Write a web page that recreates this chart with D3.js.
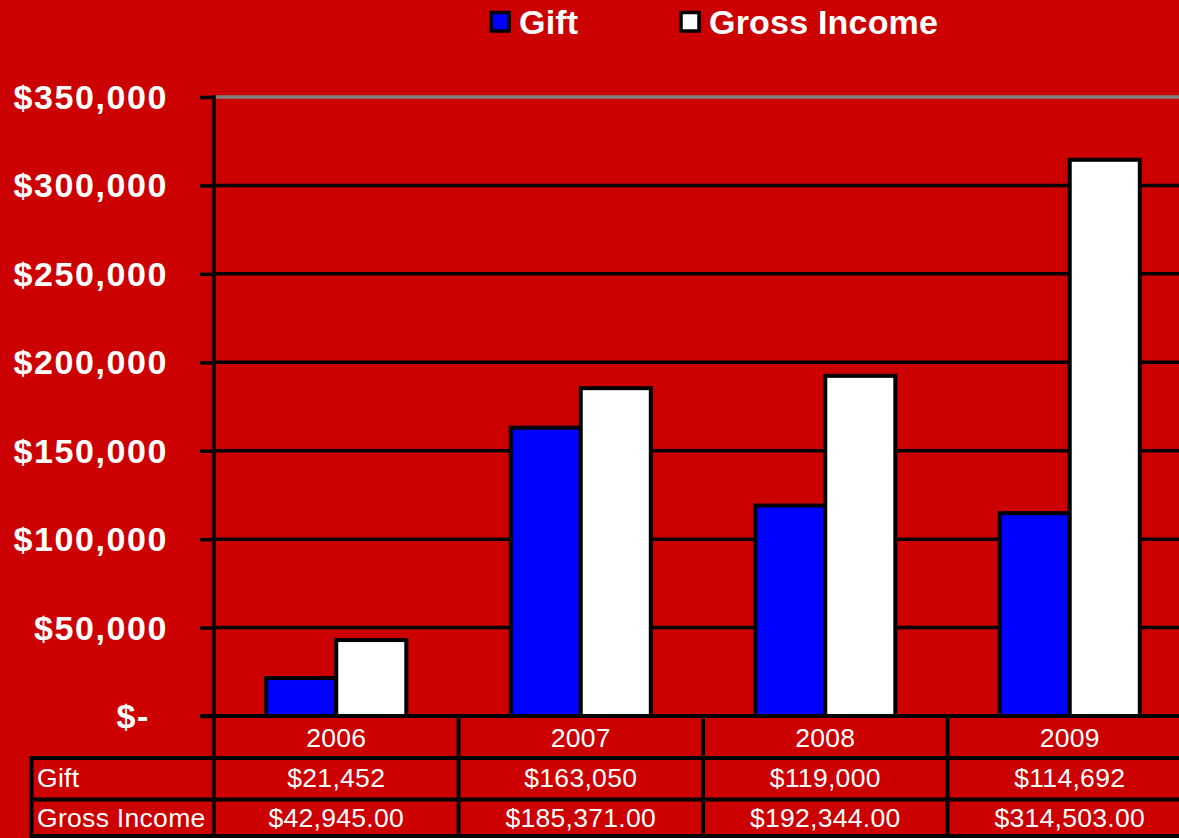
<!DOCTYPE html>
<html>
<head>
<meta charset="utf-8">
<script src="https://cdn.jsdelivr.net/npm/d3@7"></script>
<style>
  html, body { margin: 0; padding: 0; background: #CC0000; overflow: hidden; }
  svg { display: block; font-family: "Liberation Sans", Arial, sans-serif; }
</style>
</head>
<body>
<svg id="chart" width="1179" height="838"></svg>
<script>
// data
const years = ["2006", "2007", "2008", "2009"];
const seriesNames = ["Gift", "Gross Income"];
const gift = [21452, 163050, 119000, 114692];
const grossIncome = [42945.00, 185371.00, 192344.00, 314503.00];
const yTicks = [0, 50000, 100000, 150000, 200000, 250000, 300000, 350000];
const colors = ["#0000FF", "#FFFFFF"];

const svg = d3.select("#chart");
const W = 1179, H = 838;

svg.append("rect").attr("width", W).attr("height", H).attr("fill", "#CC0000");

const plotLeft = 214, plotRight = 1192, plotTop = 97, plotBottom = 716;

let x0 = d3.scaleBand().domain(years).range([plotLeft, plotRight]);
let groupW = x0.bandwidth() * 0.573;
let x1 = d3.scaleBand().domain(seriesNames).range([0, groupW]);
let y = d3.scaleLinear().domain([0, 350000]).range([plotBottom, plotTop]);

// gridlines
svg.append("g").selectAll("line")
    .data(yTicks.filter(d => d > 0))
    .enter().append("line")
    .attr("x1", plotLeft).attr("x2", W)
    .attr("y1", d => y(d)).attr("y2", d => y(d))
    .attr("stroke", d => d === 350000 ? "#808080" : "#000")
    .attr("stroke-width", 3.5);

// y axis
let yAxis = d3.axisLeft(y).tickValues(yTicks).tickSize(14).tickFormat("");
let yg = svg.append("g").attr("transform", `translate(${plotLeft},0)`).call(yAxis);
yg.select(".domain").remove();
yg.selectAll(".tick line").attr("stroke", "#000").attr("stroke-width", 3.5);
svg.append("line")
    .attr("x1", plotLeft).attr("x2", plotLeft)
    .attr("y1", plotTop - 1.75).attr("y2", H)
    .attr("stroke", "#000").attr("stroke-width", 3.5);

// y labels
svg.append("g").selectAll("text")
    .data(yTicks)
    .enter().append("text")
    .attr("x", d => d === 0 ? 150 : 168)
    .attr("y", d => y(d) + 12)
    .attr("text-anchor", "end")
    .attr("fill", "#fff")
    .attr("font-weight", "bold")
    .attr("font-size", 34)
    .attr("letter-spacing", "1.6px")
    .text(d => d === 0 ? "$-" : d3.format("$,")(d));

// bars
const rows = years.map((yr, i) => ({ year: yr, values: [gift[i], grossIncome[i]] }));
let groups = svg.append("g").selectAll("g")
    .data(rows)
    .enter().append("g")
    .attr("transform", d => `translate(${x0(d.year) + (x0.bandwidth() - groupW) / 2},0)`);

groups.selectAll("rect")
    .data(d => d.values.map((v, j) => ({ name: seriesNames[j], value: v, j: j })))
    .enter().append("rect")
    .attr("x", d => x1(d.name))
    .attr("y", d => y(d.value))
    .attr("width", x1.bandwidth())
    .attr("height", d => plotBottom - y(d.value))
    .attr("fill", d => colors[d.j])
    .attr("stroke", "#000")
    .attr("stroke-width", 4);

// x axis line
svg.append("line")
    .attr("x1", 200).attr("x2", W)
    .attr("y1", plotBottom).attr("y2", plotBottom)
    .attr("stroke", "#000").attr("stroke-width", 4);

// data table
const rowLines = [758, 799.5, 836];
const tableLeft = 31.5;
let table = svg.append("g");
rowLines.forEach(ry => {
    table.append("line")
        .attr("x1", tableLeft - 2).attr("x2", W)
        .attr("y1", ry).attr("y2", ry)
        .attr("stroke", "#000").attr("stroke-width", 4);
});
table.append("line")
    .attr("x1", tableLeft).attr("x2", tableLeft)
    .attr("y1", 756).attr("y2", H)
    .attr("stroke", "#000").attr("stroke-width", 4);
years.slice(1).concat(["end"]).forEach(yr => {
    let xx = yr === "end" ? plotRight : x0(yr);
    table.append("line")
        .attr("x1", xx).attr("x2", xx)
        .attr("y1", plotBottom).attr("y2", H)
        .attr("stroke", "#000").attr("stroke-width", 4);
});

let fmtGift = d3.format("$,");
let fmtGross = d3.format("$,.2f");
let tableRows = [
    { label: null, cells: years, base: 747 },
    { label: "Gift", cells: gift.map(fmtGift), base: 787 },
    { label: "Gross Income", cells: grossIncome.map(fmtGross), base: 827 }
];
tableRows.forEach(r => {
    if (r.label) {
        table.append("text")
            .attr("x", 37).attr("y", r.base)
            .attr("fill", "#fff").attr("font-size", 26.5)
            .attr("letter-spacing", "0.3px")
            .text(r.label);
    }
    table.selectAll(null)
        .data(r.cells)
        .enter().append("text")
        .attr("x", (d, i) => x0(years[i]) + x0.bandwidth() / 2)
        .attr("y", r.base)
        .attr("text-anchor", "middle")
        .attr("fill", "#fff").attr("font-size", 26.5)
        .attr("letter-spacing", "0.3px")
        .text(d => d);
});

// legend
const legendX = [491, 681];
let legend = svg.append("g").selectAll("g")
    .data(seriesNames)
    .enter().append("g")
    .attr("transform", (d, i) => `translate(${legendX[i]},0)`);
legend.append("rect")
    .attr("x", 0).attr("y", 12.5).attr("width", 18).attr("height", 18.5)
    .attr("fill", (d, i) => colors[i])
    .attr("stroke", "#000").attr("stroke-width", 3.5);
legend.append("text")
    .attr("x", 28).attr("y", 34)
    .attr("fill", "#fff").attr("font-weight", "bold")
    .attr("font-size", 34)
    .attr("letter-spacing", "0.2px")
    .text(d => d);
</script>
</body>
</html>
